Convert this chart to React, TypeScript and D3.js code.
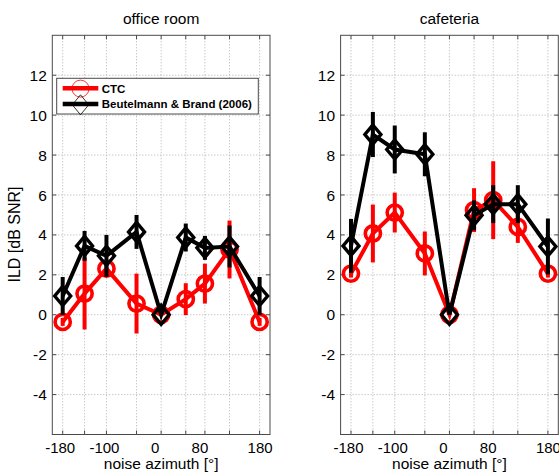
import React from "react";
import * as d3 from "d3";

const azimuths = [-180, -140, -100, -45, 0, 45, 80, 125, 180];
const xTickValues = [-180, -100, 0, 80, 180];
const xTickLabels = ["-180", "-100", "0", "80", "180"];
const yTickValues = [-4, -2, 0, 2, 4, 6, 8, 10, 12];

const officeCTC = [-0.36, 1.06, 2.31, 0.56, 0.0, 0.78, 1.56, 3.27, -0.36];
const officeCTCErr = [0.2, 1.8, 0.35, 1.5, 0.0, 0.8, 1.0, 1.45, 0.2];
const officeBB = [0.94, 3.45, 2.95, 4.15, 0.0, 3.87, 3.35, 3.42, 0.94];
const officeBBErr = [0.95, 0.75, 1.05, 0.85, 0.0, 0.7, 0.6, 1.05, 0.95];

const cafeCTC = [2.06, 4.07, 5.12, 3.07, 0.0, 5.24, 5.74, 4.4, 2.06];
const cafeCTCErr = [0.2, 1.45, 1.0, 1.1, 0.0, 1.1, 1.95, 0.8, 0.2];
const cafeBB = [3.45, 9.03, 8.28, 8.04, 0.0, 4.98, 5.54, 5.54, 3.42];
const cafeBBErr = [1.35, 1.13, 1.2, 1.1, 0.0, 0.75, 0.95, 0.95, 1.4];

const titles = ["office room", "cafeteria"];
const legendLabels = ["CTC", "Beutelmann & Brand (2006)"];

// label nudges (px) to mimic the original label placement
const xTickLabelDx = [-2.5, -2, -6, -5, 0.5];

const FONT = "'Liberation Sans', Arial, Helvetica, sans-serif";
const RED = "#ff0000";
const BLACK = "#000000";

const TOP = 35.3;
const BOTTOM = 434.5;
const panels = [
  { x0: 52.3, x1: 270, title: titles[0], ctc: officeCTC, ctcErr: officeCTCErr, bb: officeBB, bbErr: officeBBErr, legend: true },
  { x0: 340.6, x1: 558.3, title: titles[1], ctc: cafeCTC, ctcErr: cafeCTCErr, bb: cafeBB, bbErr: cafeBBErr, legend: false },
];

const y = d3.scaleLinear().domain([-6, 14]).range([BOTTOM, TOP]);

function diamondPath(cx: number, cy: number, hw: number, hh: number) {
  return `M${cx},${cy - hh}L${cx + hw},${cy}L${cx},${cy + hh}L${cx - hw},${cy}Z`;
}

function Series({ x, vals, errs, color, kind }: any) {
  const line = d3
    .line<number>()
    .x((_, i) => x(azimuths[i]))
    .y((d) => y(d));
  return (
    <g>
      <path d={line(vals) || ""} fill="none" stroke={color} strokeWidth={4} strokeLinejoin="miter" />
      {vals.map((v: number, i: number) =>
        errs[i] > 0 ? (
          <line
            key={"e" + i}
            x1={x(azimuths[i])}
            x2={x(azimuths[i])}
            y1={y(v - errs[i])}
            y2={y(v + errs[i])}
            stroke={color}
            strokeWidth={4}
          />
        ) : null
      )}
      {vals.map((v: number, i: number) =>
        kind === "circle" ? (
          <circle key={"m" + i} cx={x(azimuths[i])} cy={y(v)} r={7.6} fill="none" stroke={color} strokeWidth={3.6} />
        ) : (
          <path key={"m" + i} d={diamondPath(x(azimuths[i]), y(v), 8, 9.5)} fill="none" stroke={color} strokeWidth={3.4} />
        )
      )}
    </g>
  );
}

function Panel({ p }: any) {
  const x = d3.scaleLinear().domain([-199, 199]).range([p.x0, p.x1]);
  const cx = (p.x0 + p.x1) / 2;
  const axisColor = "#4a4a4a";
  return (
    <g>
      <rect x={p.x0} y={TOP} width={p.x1 - p.x0} height={BOTTOM - TOP} fill="#fff" />
      {azimuths.map((a) => (
        <line key={"gx" + a} x1={x(a)} x2={x(a)} y1={TOP} y2={BOTTOM} stroke="#b0b0b0" strokeWidth={1} strokeDasharray="1,2" />
      ))}
      {yTickValues.map((v) => (
        <line key={"gy" + v} x1={p.x0} x2={p.x1} y1={y(v)} y2={y(v)} stroke="#b0b0b0" strokeWidth={1} strokeDasharray="1,2" />
      ))}
      {azimuths.map((a) => (
        <g key={"tx" + a}>
          <line x1={x(a)} x2={x(a)} y1={BOTTOM} y2={BOTTOM - 4} stroke={axisColor} />
          <line x1={x(a)} x2={x(a)} y1={TOP} y2={TOP + 4} stroke={axisColor} />
        </g>
      ))}
      {yTickValues.map((v) => (
        <g key={"ty" + v}>
          <line x1={p.x0} x2={p.x0 + 4} y1={y(v)} y2={y(v)} stroke={axisColor} />
          <line x1={p.x1} x2={p.x1 - 4} y1={y(v)} y2={y(v)} stroke={axisColor} />
        </g>
      ))}
      <rect x={p.x0} y={TOP} width={p.x1 - p.x0} height={BOTTOM - TOP} fill="none" stroke={axisColor} strokeWidth={1} />
      <Series x={x} vals={p.ctc} errs={p.ctcErr} color={RED} kind="circle" />
      <Series x={x} vals={p.bb} errs={p.bbErr} color={BLACK} kind="diamond" />
      {yTickValues.map((v) => (
        <text key={"yl" + v} x={p.x0 - 5.5} y={y(v)} dy="0.36em" textAnchor="end" fontSize={15.5} fontFamily={FONT} fill="#000">
          {v}
        </text>
      ))}
      {xTickValues.map((v, i) => (
        <text key={"xl" + v} x={x(v) + xTickLabelDx[i]} y={452.5} textAnchor="middle" fontSize={15} fontFamily={FONT} fill="#000">
          {xTickLabels[i]}
        </text>
      ))}
      <text x={cx} y={469} textAnchor="middle" fontSize={15.5} fontFamily={FONT} fill="#000">
        noise azimuth [°]
      </text>
      <text x={cx} y={24} textAnchor="middle" fontSize={15.5} fontFamily={FONT} fill="#000">
        {p.title}
      </text>
      {p.legend && (
        <g>
          <rect x={56.7} y={78.3} width={201.6} height={35.7} fill="#fff" stroke={axisColor} strokeWidth={1} />
          <line x1={62.7} x2={98.3} y1={88.3} y2={88.3} stroke={RED} strokeWidth={4.5} />
          <circle cx={80.5} cy={88.6} r={8.5} fill="none" stroke={RED} strokeWidth={0.8} />
          <text x={101.7} y={92.6} fontSize={11.5} fontWeight="bold" fontFamily={FONT} fill="#000">
            {legendLabels[0]}
          </text>
          <line x1={62.7} x2={98.3} y1={104} y2={104} stroke={BLACK} strokeWidth={4.5} />
          <path d={diamondPath(80.5, 104.8, 8.2, 10)} fill="none" stroke={BLACK} strokeWidth={0.8} />
          <text x={101.7} y={108.4} fontSize={11.5} fontWeight="bold" fontFamily={FONT} fill="#000">
            {legendLabels[1]}
          </text>
        </g>
      )}
    </g>
  );
}

export default function App() {
  return (
    <svg width={559} height={475} style={{ position: "absolute", left: 0, top: 0, background: "#fff" }}>
      <rect x={0} y={0} width={559} height={475} fill="#fff" />
      {panels.map((p, i) => (
        <Panel key={i} p={p} />
      ))}
      <text transform="translate(19.5,234.5) rotate(-90)" textAnchor="middle" fontSize={16} fontFamily={FONT} fill="#000">
        ILD [dB SNR]
      </text>
    </svg>
  );
}
